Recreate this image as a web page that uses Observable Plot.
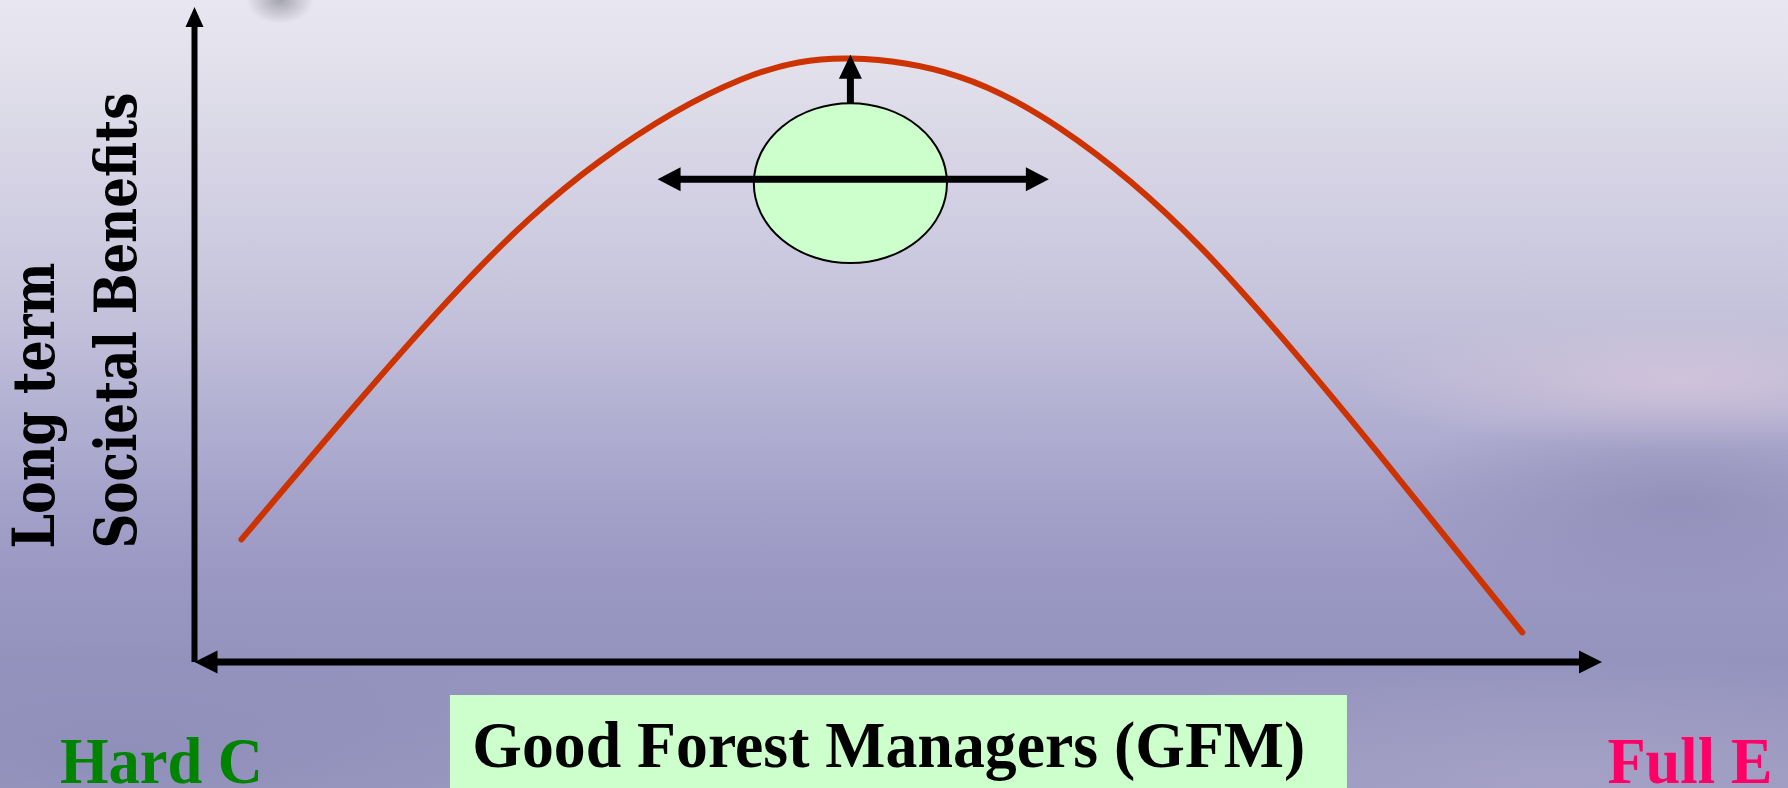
<!DOCTYPE html>
<html>
<head>
<meta charset="utf-8">
<script src="https://cdn.jsdelivr.net/npm/d3@7"></script>
<script src="https://cdn.jsdelivr.net/npm/@observablehq/plot@0.6"></script>
<style>
  html, body { margin: 0; padding: 0; width: 1788px; height: 788px; overflow: hidden; }
  body {
    background:
      radial-gradient(ellipse 34px 24px at 280px 0px, rgba(110, 110, 120, 0.55), rgba(110, 110, 120, 0) 100%),
      radial-gradient(ellipse 330px 70px at 1680px 380px, rgba(226, 205, 222, 0.55), rgba(226, 205, 222, 0) 100%),
      radial-gradient(ellipse 300px 100px at 1680px 500px, rgba(118, 112, 160, 0.35), rgba(118, 112, 160, 0) 100%),
      radial-gradient(ellipse 520px 120px at 120px 760px, rgba(128, 132, 180, 0.45), rgba(128, 132, 180, 0) 100%),
      radial-gradient(ellipse 500px 130px at 1560px 780px, rgba(176, 170, 205, 0.45), rgba(176, 170, 205, 0) 100%),
      linear-gradient(to bottom, #e8e7f1 0%, #dedde9 12%, #d5d3e4 22%, #c6c4dc 38%, #b3b1d2 52%, #a3a1c9 64%, #9a98c3 74%, #9493be 84%, #9896bf 92%, #9c9ac0 100%);
  }
  #chart svg { display: block; }
</style>
</head>
<body>
<div id="chart"></div>
<script>
// Long-term societal benefit along the management axis (Hard C → Full E)
const curveX = [3.3, 18.0, 28.8, 38.8, 46.6, 54.2, 61.5, 71.4, 83.9, 94.3];
const curveY = [18.8, 55.3, 76.6, 89.0, 92.2, 89.5, 81.5, 63.5, 32.4, 4.6];

// Good-forest-manager zone around the optimum: centre and half-extents
const zoneCenter = [46.6, 73.1];
const zoneRadius = [6.86, 12.2];

// Arrows: the two axes, the spread of the GFM zone and the lift toward the peak
const arrowNames = ["xAxis", "yAxis", "spread", "lift"];
const arrowX1 = [0, 0, 32.9, 46.6];
const arrowY1 = [0, 0, 73.7, 85.3];
const arrowX2 = [100, 0, 60.7, 46.6];
const arrowY2 = [0, 100, 73.7, 92.7];
const arrowBothEnds = [true, false, true, false];

// Text
const axisTitle = "Good Forest Managers (GFM)";
const endLabels = ["Hard C", "Full E"];
const yTitleLines = ["Long term", "Societal Benefits"];

const curve = curveX.map((x, i) => ({x, y: curveY[i]}));

const arrowStyle = {
  xAxis:  {width: 7, head: 23, half: 11.5},
  yAxis:  {width: 6, head: 20, half: 9},
  spread: {width: 7, head: 23, half: 12},
  lift:   {width: 7, head: 24, half: 11.5}
};

const timesBold = "'Liberation Serif', 'Times New Roman', Times, serif";
const centuryBold = "'DejaVu Serif', 'Century Schoolbook', serif";

// Set widths so the condensed lettering keeps its run length
const textLengths = new Map([
  [axisTitle, 833],
  [endLabels[0], 203],
  [endLabels[1], 165],
  [yTitleLines[0], 286],
  [yTitleLines[1], 456]
]);

// Find the scale functions among the arguments Plot hands to a render function
function pickScales(args) {
  for (const a of args) if (a && typeof a.x === "function" && typeof a.y === "function") return a;
  return args[1];
}

function zoneMark() {
  const s = pickScales(arguments);
  const cx = s.x(zoneCenter[0]), cy = s.y(zoneCenter[1]);
  const rx = Math.abs(s.x(zoneCenter[0] + zoneRadius[0]) - cx);
  const ry = Math.abs(s.y(zoneCenter[1] + zoneRadius[1]) - cy);
  return d3.create("svg:ellipse")
    .attr("cx", cx).attr("cy", cy).attr("rx", rx).attr("ry", ry)
    .attr("fill", "#ccffcc").attr("stroke", "#000").attr("stroke-width", 2)
    .node();
}

function arrowsMark() {
  const s = pickScales(arguments);
  const g = d3.create("svg:g");
  arrowNames.forEach((name, i) => {
    const st = arrowStyle[name];
    const x1 = s.x(arrowX1[i]), y1 = s.y(arrowY1[i]);
    const x2 = s.x(arrowX2[i]), y2 = s.y(arrowY2[i]);
    const len = Math.hypot(x2 - x1, y2 - y1);
    const ux = (x2 - x1) / len, uy = (y2 - y1) / len;
    const back = st.head * 0.8;
    const sx1 = arrowBothEnds[i] ? x1 + ux * back : x1;
    const sy1 = arrowBothEnds[i] ? y1 + uy * back : y1;
    g.append("line")
      .attr("x1", sx1).attr("y1", sy1)
      .attr("x2", x2 - ux * back).attr("y2", y2 - uy * back)
      .attr("stroke", "#000").attr("stroke-width", st.width);
    const head = (tx, ty, dx, dy) => {
      const bx = tx - dx * st.head, by = ty - dy * st.head;
      const px = -dy * st.half, py = dx * st.half;
      g.append("polygon")
        .attr("points", `${tx},${ty} ${bx + px},${by + py} ${bx - px},${by - py}`)
        .attr("fill", "#000");
    };
    head(x2, y2, ux, uy);
    if (arrowBothEnds[i]) head(x1, y1, -ux, -uy);
  });
  return g.node();
}

const label = {text: d => d, textAnchor: "start", lineAnchor: "bottom", fontWeight: "bold"};

const chart = Plot.plot({
  width: 1788,
  height: 788,
  margin: 0,
  x: {domain: [0, 100], range: [194.5, 1602], axis: null},
  y: {domain: [0, 100], range: [662, 7], axis: null},
  style: {background: "transparent", overflow: "visible"},
  marks: [
    // label box beneath the horizontal axis
    Plot.rect([axisTitle], {x1: 18.15, x2: 81.88, y1: -19.3, y2: -5.04, fill: "#ccffcc"}),
    Plot.text([axisTitle], {...label, x: 19.7, y: -16.03, fontFamily: timesBold, fontSize: 66, fill: "#000"}),
    Plot.text([endLabels[0]], {...label, x: -9.6, y: -18.47, fontFamily: timesBold, fontSize: 65, fill: "#008400"}),
    Plot.text([endLabels[1]], {...label, x: 100.35, y: -18.47, fontFamily: timesBold, fontSize: 65, fill: "#ff0066"}),
    // vertical title, two stacked lines reading upward
    Plot.text([yTitleLines[0]], {...label, x: -9.99, y: 17.4, rotate: -90, fontFamily: centuryBold, fontSize: 58, fill: "#000"}),
    Plot.text([yTitleLines[1]], {...label, x: -4.16, y: 17.4, rotate: -90, fontFamily: centuryBold, fontSize: 58, fill: "#000"}),
    // benefit curve
    Plot.line(curve, {x: "x", y: "y", curve: "natural", stroke: "#cc3300", strokeWidth: 6}),
    zoneMark,
    arrowsMark
  ]
});

d3.select(chart).selectAll("text").each(function () {
  const w = textLengths.get(this.textContent);
  if (w) d3.select(this).attr("textLength", w).attr("lengthAdjust", "spacingAndGlyphs");
});

document.getElementById("chart").appendChild(chart);
</script>
</body>
</html>
